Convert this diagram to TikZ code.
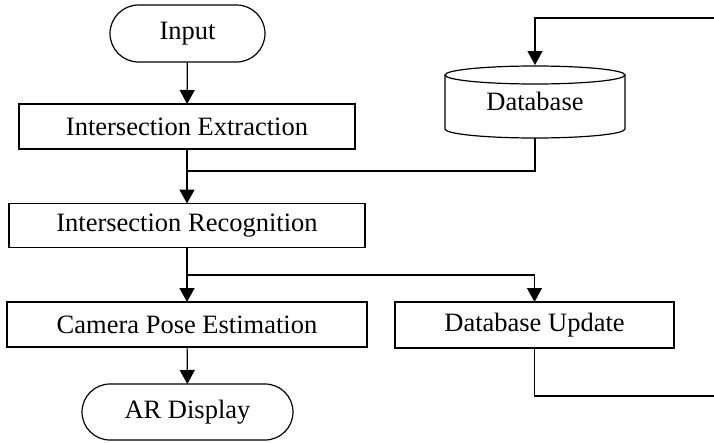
\documentclass[tikz,border=0pt]{standalone}
\usepackage{fontspec}
\setmainfont{Liberation Serif}
\usetikzlibrary{shapes.misc,arrows.meta}
\begin{document}
\begin{tikzpicture}[x=1pt,y=-1pt,
  font=\fontsize{26.5}{30}\selectfont,
  every node/.style={inner sep=0pt, outer sep=0pt},
  stepbox/.style={draw, line width=1.2pt, rectangle},
  termbox/.style={draw, line width=1.2pt, rounded rectangle},
  flow/.style={line width=1.2pt},
  mainflow/.style={line width=1.8pt},
  tip/.style={-{Triangle[length=14pt,width=15pt]}}]
\useasboundingbox (0,0) rectangle (714,442);

% process nodes
\node[termbox, minimum width=155pt, minimum height=57pt] (in) at (187.5,33.5) {Input};
\node[stepbox, minimum width=336pt, minimum height=45pt] (ext) at (187,126.5) {Intersection Extraction};
\node[stepbox, minimum width=356pt, minimum height=44pt] (rec) at (187,225.5) {Intersection Recognition};
\node[stepbox, minimum width=360pt, minimum height=45pt] (cam) at (187,324.5) {Camera Pose Estimation};
\node[stepbox, minimum width=279pt, minimum height=46pt] (upd) at (534.5,325) {Database Update};
\node[termbox, minimum width=211pt, minimum height=56pt] (ar) at (187.5,412) {AR Display};

% database cylinder
\node[minimum width=180pt, minimum height=73pt] (db) at (535,101.5) {\raisebox{-4pt}{Database}};
\draw[line width=1.2pt] (535,75) ellipse [x radius=90pt, y radius=9pt];
\draw[line width=1.2pt] (445,75) -- (445,129)
  arc[start angle=180, end angle=360, x radius=90pt, y radius=9pt] -- (625,75);

% junction points and free ends
\coordinate (j1) at (187,171);
\coordinate (j2) at (187,275);
\coordinate (eTop) at (714,18);
\coordinate (eBot) at (714,396);

% main column
\draw[flow, tip] (in) -- (ext);
\draw[mainflow, tip] (ext) -- (rec);
\draw[mainflow, tip] (rec) -- (cam);
\draw[flow, tip] (cam) -- (ar);

% database lookup
\draw[flow] (db.south) -- (db.south |- j1) -- (j1);

% branch to update
\draw[flow, tip] (j2) -| (upd.north);

% feedback loop into the database
\draw[flow] (upd.south) |- (eBot);
\draw[flow, tip] (eTop) -| (db.north);
\end{tikzpicture}
\end{document}
